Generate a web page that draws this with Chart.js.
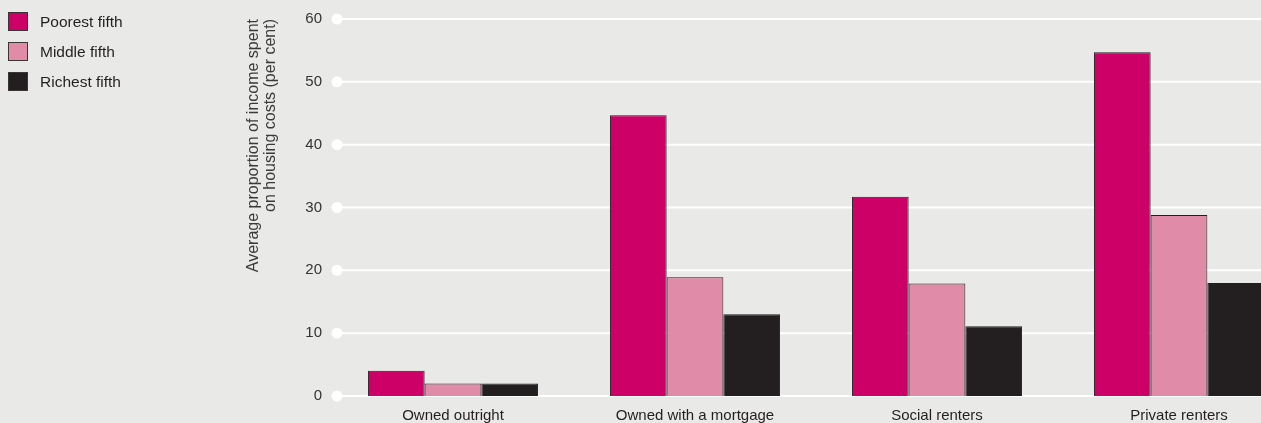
<!DOCTYPE html>
<html>
<head>
<meta charset="utf-8">
<script src="https://cdn.jsdelivr.net/npm/chart.js@4.4.1/dist/chart.umd.min.js"></script>
<style>
  body { margin: 0; background: #e9eae7; overflow: hidden; font-family: "Liberation Sans", Arial, sans-serif; }
  #wrap { position: relative; width: 1261px; height: 423px; overflow: hidden; }
  #legend { position: absolute; left: 8px; top: 12px; }
  .item { display: flex; align-items: center; height: 19px; margin-bottom: 11px; font-size: 15.5px; color: #231f20; }
  .sw { width: 18px; height: 17px; border: 1px solid #3a3536; margin-right: 12px; }
  canvas { position: absolute; left: 0; top: 0; }
</style>
</head>
<body>
<div id="wrap">
  <canvas id="myChart" width="1305" height="423"></canvas>
  <div id="legend"></div>
</div>
<script>
const categories = ["Owned outright", "Owned with a mortgage", "Social renters", "Private renters"]
const seriesNames = ["Poorest fifth", "Middle fifth", "Richest fifth"]
const poorest = [4, 44.7, 31.7, 54.7]
const middle = [2, 18.9, 17.9, 28.8]
const richest = [2, 13, 11.1, 18]
const colors = ["#cc0066", "#e08ca8", "#231f20"]
const yTicks = [0, 10, 20, 30, 40, 50, 60]

const legend = document.querySelector("#legend")
seriesNames.forEach((name, i) => {
    const row = document.createElement("div")
    row.className = "item"
    row.innerHTML = `<span class="sw" style="background:${colors[i]}"></span>${name}`
    legend.appendChild(row)
})

// white grid lines with a dot at the start of each
const gridDots = {
    id: "gridDots",
    beforeDatasetsDraw(chart) {
        const { ctx, chartArea, scales: { y } } = chart
        const x0 = chartArea.left + 5
        ctx.save()
        ctx.strokeStyle = "#ffffff"
        ctx.fillStyle = "#ffffff"
        ctx.lineWidth = 2
        y.ticks.forEach(t => {
            const py = y.getPixelForValue(t.value)
            ctx.beginPath()
            ctx.moveTo(x0, py)
            ctx.lineTo(chartArea.right, py)
            ctx.stroke()
            ctx.beginPath()
            ctx.arc(x0, py, 5.5, 0, Math.PI * 2)
            ctx.fill()
        })
        ctx.restore()
    }
}

const datasets = [poorest, middle, richest].map((data, i) => ({
    label: seriesNames[i],
    data: data,
    backgroundColor: colors[i],
    borderColor: "#231f20",
    borderWidth: 1,
    barPercentage: 1,
    categoryPercentage: 0.703
}))

new Chart(document.querySelector("#myChart").getContext("2d"), {
    type: "bar",
    data: { labels: categories, datasets: datasets },
    plugins: [gridDots],
    options: {
        responsive: false,
        animation: false,
        layout: { padding: { left: 245, top: 18, right: 5, bottom: 0 } },
        plugins: { legend: { display: false }, tooltip: { enabled: false } },
        scales: {
            x: {
                grid: { display: false, drawTicks: false },
                border: { display: false },
                ticks: { color: "#231f20", padding: 11, font: { family: "Liberation Sans", size: 15 } },
                afterFit: scale => { scale.height = 27 }
            },
            y: {
                min: 0,
                max: 60,
                afterBuildTicks: scale => { scale.ticks = yTicks.map(v => ({ value: v })) },
                grid: { display: false, drawTicks: false },
                border: { display: false },
                ticks: { color: "#333333", padding: 10, font: { family: "Liberation Sans", size: 15 } },
                title: {
                    display: true,
                    text: ["Average proportion of income spent", "on housing costs (per cent)"],
                    color: "#3a3a3a",
                    align: "end",
                    padding: 0,
                    font: { family: "Liberation Sans", size: 16, lineHeight: 1.06 }
                },
                afterFit: scale => { scale.width = 87 }
            }
        }
    }
})
</script>
</body>
</html>
